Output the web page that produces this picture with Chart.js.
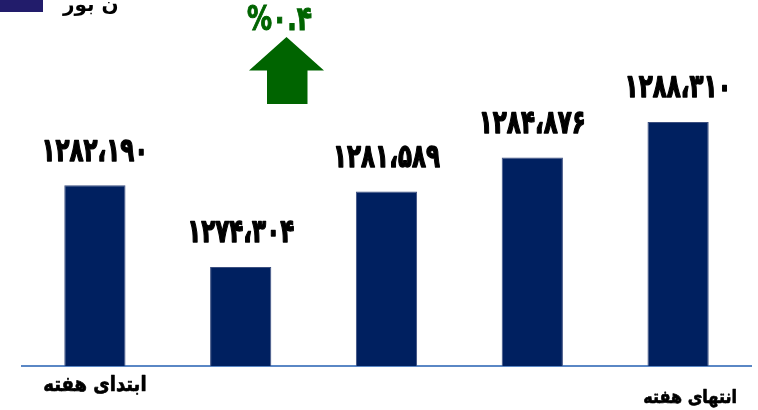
<!DOCTYPE html>
<html>
<head>
<meta charset="utf-8">
<script src="https://cdn.jsdelivr.net/npm/chart.js@4/dist/chart.umd.min.js"></script>
<style>
    html, body { margin: 0; padding: 0; background: #fff; }
    #wrap { position: relative; width: 758px; height: 410px; overflow: hidden; }
    #chart { position: absolute; left: 0; top: 0; }
    .titleBox { position: absolute; left: 0; top: 0; width: 43px; height: 12px; background: #221c6b; }
    .title { position: absolute; left: 63px; top: -8px; font: bold 20px "DejaVu Sans"; color: #000; direction: rtl; white-space: nowrap; }
    .pct { position: absolute; left: 247px; top: -1px; font: bold 25px "DejaVu Sans"; color: #006400; direction: ltr; unicode-bidi: bidi-override;
           white-space: nowrap; transform: scaleY(1.33); transform-origin: 0 0; -webkit-text-stroke: 0.8px #006400; }
    .arrow { position: absolute; left: 249px; top: 37px; width: 75px; height: 67px; background: #006400;
             clip-path: polygon(50% 0, 100% 50%, 78% 50%, 78% 100%, 24% 100%, 24% 50%, 0 50%); }
</style>
</head>
<body>
<div id="wrap">
    <canvas id="chart" width="758" height="410"></canvas>
    <div class="titleBox"></div>
    <div class="title">ن بور</div>
    <div class="pct">%۰.۴</div>
    <div class="arrow"></div>
</div>
<script>
// index values, start of week -> end of week
const days = ['ابتدای هفته', '', '', '', 'انتهای هفته'];
const indexValues = [1282190, 1274304, 1281589, 1284876, 1288310];

const persianDigits = '۰۱۲۳۴۵۶۷۸۹';

function toPersian(str) {
    return String(str).replace(/[0-9]/g, d => persianDigits[d]);
}

function formatValue(v) {
    const head = Math.floor(v / 1000);
    const tail = String(v % 1000).padStart(3, '0');
    return toPersian(head + '،' + tail);
}

// heavy, slightly stretched text (closer to the Titr look of the original)
function drawHeavy(ctx, text, x, y, sy, stroke) {
    ctx.save();
    ctx.translate(x, y);
    ctx.scale(1, sy);
    ctx.lineWidth = stroke;
    ctx.strokeStyle = ctx.fillStyle;
    ctx.lineJoin = 'round';
    ctx.fillText(text, 0, 0);
    ctx.strokeText(text, 0, 0);
    ctx.restore();
}

// value labels above the bars
const valueLabels = {
    id: 'valueLabels',
    afterDatasetsDraw(chart) {
        const ctx = chart.ctx;
        const meta = chart.getDatasetMeta(0);
        ctx.save();
        ctx.font = 'bold 23px "DejaVu Sans"';
        ctx.fillStyle = '#000';
        ctx.textAlign = 'center';
        ctx.textBaseline = 'bottom';
        meta.data.forEach((bar, i) => {
            drawHeavy(ctx, formatValue(indexValues[i]), bar.x, bar.y - 17, 1.4, 1);
        });
        ctx.restore();
    }
};

// only first and last category have a caption
const dayLabels = {
    id: 'dayLabels',
    afterDraw(chart) {
        const ctx = chart.ctx;
        const xs = chart.scales.x;
        const bottom = chart.chartArea.bottom;
        ctx.save();
        ctx.fillStyle = '#000';
        ctx.textAlign = 'center';
        ctx.textBaseline = 'middle';
        days.forEach((d, i) => {
            if (!d) return;
            const last = i === days.length - 1;
            ctx.font = last ? 'bold 16px "DejaVu Sans"' : 'bold 18px "DejaVu Sans"';
            drawHeavy(ctx, d, xs.getPixelForValue(i) + (last ? 12 : 0), bottom + (last ? 32 : 20), 1.15, 0.6);
        });
        ctx.restore();
    }
};

new Chart(document.getElementById('chart'), {
    type: 'bar',
    data: {
        labels: days,
        datasets: [{
            data: indexValues,
            backgroundColor: '#002060',
            borderColor: '#3c4f80',
            borderWidth: 1,
            categoryPercentage: 1,
            barPercentage: 0.42
        }]
    },
    options: {
        responsive: false,
        animation: false,
        layout: { padding: { left: 22, right: 7, top: 60, bottom: 44 } },
        plugins: { legend: { display: false }, tooltip: { enabled: false } },
        scales: {
            x: {
                ticks: { display: false },
                grid: { display: false, drawTicks: false },
                border: { display: true, color: '#5a87c5', width: 2 }
            },
            y: {
                display: false,
                min: 1264740,
                max: 1294300
            }
        }
    },
    plugins: [valueLabels, dayLabels]
});
</script>
</body>
</html>
